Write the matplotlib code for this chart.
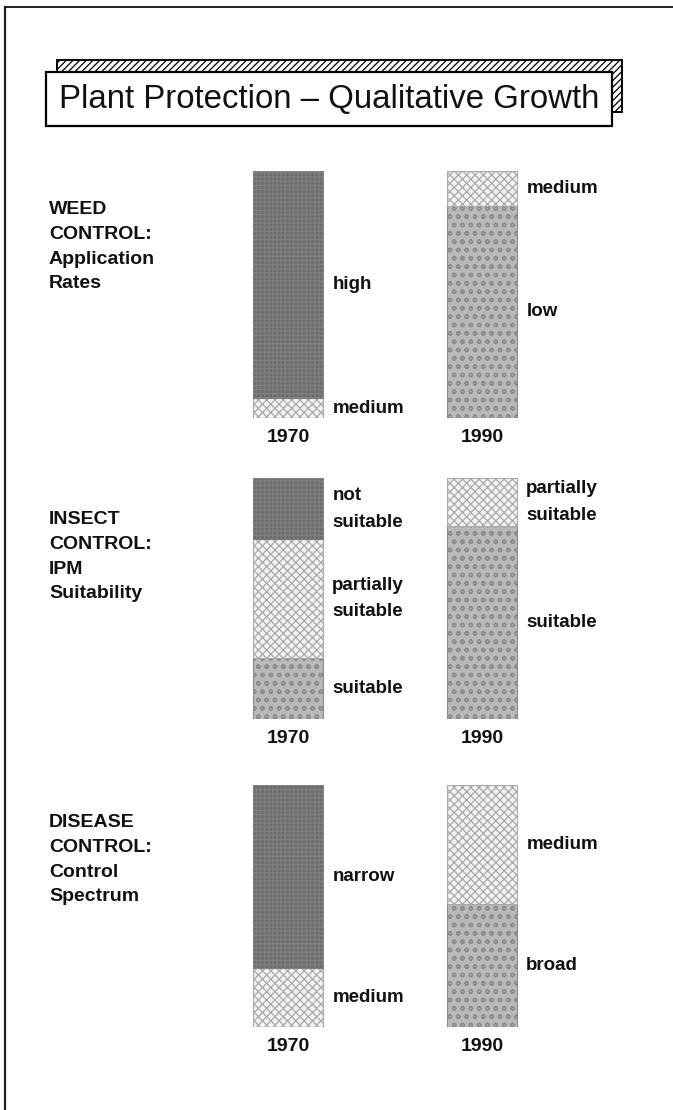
import matplotlib
matplotlib.use("Agg")
import matplotlib.pyplot as plt
from matplotlib.patches import Rectangle
from matplotlib.lines import Line2D

plt.rcParams['font.family'] = ['Liberation Sans', 'DejaVu Sans']
plt.rcParams['hatch.linewidth'] = 0.9

# ---------------- data ----------------
title = "Plant Protection \u2013 Qualitative Growth"
years = ["1970", "1990"]
panel_titles = [
    "WEED\nCONTROL:\nApplication\nRates",
    "INSECT\nCONTROL:\nIPM\nSuitability",
    "DISEASE\nCONTROL:\nControl\nSpectrum",
]
# segments listed bottom -> top, shares of the bar
weed_1970_labels = ["medium", "high"]
weed_1970_shares = [0.08, 0.92]
weed_1990_labels = ["low", "medium"]
weed_1990_shares = [0.86, 0.14]
insect_1970_labels = ["suitable", "partially\nsuitable", "not\nsuitable"]
insect_1970_shares = [0.255, 0.49, 0.255]
insect_1990_labels = ["suitable", "partially\nsuitable"]
insect_1990_shares = [0.80, 0.20]
disease_1970_labels = ["medium", "narrow"]
disease_1970_shares = [0.245, 0.755]
disease_1990_labels = ["broad", "medium"]
disease_1990_shares = [0.51, 0.49]

# pattern class of each segment label
level_style = {
    "high": "dark", "narrow": "dark", "not\nsuitable": "dark",
    "medium": "light", "partially\nsuitable": "light",
    "low": "mid", "suitable": "mid", "broad": "mid",
}
styles = {
    "dark": dict(color="#6c6c6c", hatch="++++", edgecolor="#808080"),
    "light": dict(color="#f2f2f2", hatch="xxxx", edgecolor="#a9a9a9"),
    "mid": dict(color="#b9b9b9", hatch="oo", edgecolor="#8a8a8a"),
}

panels = [
    [(weed_1970_labels, weed_1970_shares), (weed_1990_labels, weed_1990_shares)],
    [(insect_1970_labels, insect_1970_shares), (insect_1990_labels, insect_1990_shares)],
    [(disease_1970_labels, disease_1970_shares), (disease_1990_labels, disease_1990_shares)],
]

W, H = 673, 1110
fig = plt.figure(figsize=(W / 100, H / 100), dpi=100)

# overlay axes in pixel units for frame / title / headings
ov = fig.add_axes([0, 0, 1, 1])
ov.set_xlim(0, W)
ov.set_ylim(H, 0)
ov.axis("off")

ov.add_line(Line2D([5, 5], [7, H], color="#222222", lw=1.6))
ov.add_line(Line2D([5, W], [7, 7], color="#222222", lw=1.4))

# title box with hatched shadow
ov.add_patch(Rectangle((57, 60), 565, 52, facecolor="white", edgecolor="black",
                       hatch="/////", lw=1.4, zorder=2))
ov.add_patch(Rectangle((46, 72), 566, 54, facecolor="white", edgecolor="black",
                       lw=1.6, zorder=3))
ov.text(329, 100, title, ha="center", va="center", fontsize=23.8,
        color="#111111", zorder=4)

fs = 14
heading_y = [201, 511, 814]
for txt, y in zip(panel_titles, heading_y):
    ov.text(49, y, txt, ha="left", va="top", fontsize=fs, fontweight="bold",
            color="#111111", linespacing=1.6)

# bar panels: each axes spans exactly the bar height (0..1)
panel_px = [(171, 418), (478, 719), (785, 1027)]
x_left_px, x_right_px = 191, 579
width = 0.356
for (top, bot), bars in zip(panel_px, panels):
    ax = fig.add_axes([x_left_px / W, 1 - bot / H,
                       (x_right_px - x_left_px) / W, (bot - top) / H])
    ax.set_xlim(-0.5, 1.5)
    ax.set_ylim(0, 1)
    for i, (labels, shares) in enumerate(bars):
        bottom = 0.0
        for lab, share in zip(labels, shares):
            st = styles[level_style[lab]]
            ax.bar(i, share, width=width, bottom=bottom, color=st["color"],
                   hatch=st["hatch"], edgecolor=st["edgecolor"], linewidth=0.8)
            ax.annotate(lab, xy=(i + width / 2, bottom + share / 2),
                        xytext=(7, 0), textcoords="offset points",
                        ha="left", va="center", fontsize=fs - 0.5,
                        fontweight="bold", color="#111111", linespacing=1.75)
            bottom += share
    ax.set_xticks([0, 1], years)
    ax.tick_params(axis="x", length=0, pad=8, labelsize=fs)
    for t in ax.get_xticklabels():
        t.set_fontweight("bold")
        t.set_color("#111111")
    ax.set_yticks([])
    for s in ax.spines.values():
        s.set_visible(False)
    ax.patch.set_alpha(0)

fig.savefig("out.png", dpi=100)
